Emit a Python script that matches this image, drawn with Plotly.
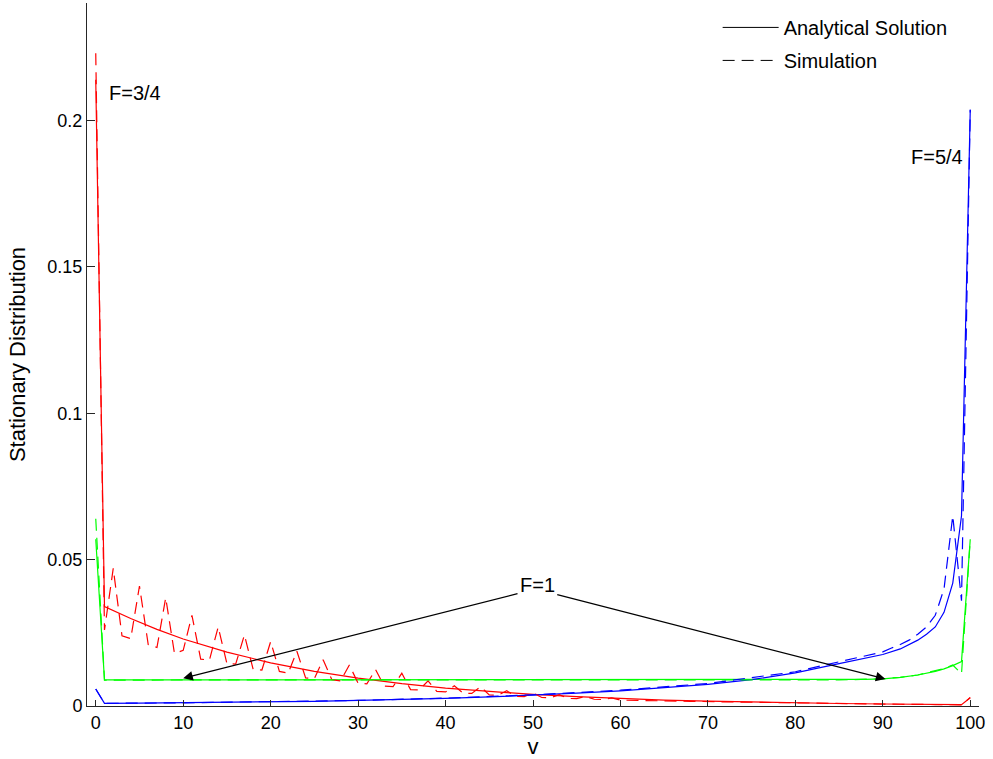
import plotly.graph_objects as go

# ---------------- data ----------------
# F = 3/4 (red)
red_ana_v = [0, 1, 4, 7, 10, 15, 20, 25, 30, 35, 40, 45, 50, 55, 60, 65, 70, 75, 80, 85, 90, 95, 99, 100]
red_ana_p = [0.214, 0.034, 0.0299, 0.0262, 0.0229, 0.0184, 0.01475, 0.01184, 0.0095, 0.00763, 0.00612,
             0.00492, 0.00394, 0.00317, 0.00253, 0.00204, 0.00164, 0.00132, 0.00106, 0.00085, 0.00068,
             0.00055, 0.00046, 0.0028]

red_sim_v = list(range(0, 61)) + [64, 68, 72, 76, 80, 84, 88, 92, 96, 98, 99, 100]
red_sim_p = [0.223, 0.026, 0.047, 0.024, 0.023, 0.041, 0.021, 0.020, 0.037, 0.018,
             0.019, 0.031, 0.016, 0.0157, 0.027, 0.0145, 0.0143, 0.0243, 0.0125, 0.0123,
             0.022, 0.0118, 0.0112, 0.0187, 0.0096, 0.0094, 0.0158, 0.0090, 0.0086, 0.0140,
             0.0078, 0.0076, 0.0124, 0.0068, 0.0066, 0.0112, 0.0056, 0.0055, 0.0086, 0.0050,
             0.0048, 0.0069, 0.0044, 0.0043, 0.0066, 0.0038, 0.0037, 0.0052, 0.0033, 0.0032,
             0.0045, 0.0029, 0.0028, 0.0039, 0.0026, 0.0025, 0.0033, 0.0023, 0.0022, 0.0028,
             0.0020,
             0.0019, 0.0016, 0.0014, 0.0012, 0.0010, 0.0009, 0.0007, 0.0006, 0.0005, 0.0004,
             0.0004, 0.0029]

# F = 1 (green)
green_ana_v = [0, 1, 10, 20, 30, 40, 50, 60, 70, 80, 85, 88, 90, 92, 94, 95, 96, 97, 98, 99, 100]
green_ana_p = [0.057, 0.0089, 0.0089, 0.0089, 0.0089, 0.0089, 0.0089, 0.0089, 0.0089, 0.0089,
               0.0089, 0.0091, 0.0093, 0.0098, 0.0106, 0.0111, 0.0118, 0.0127, 0.0138, 0.0152, 0.057]

green_sim_v = [0, 1, 10, 20, 30, 40, 50, 60, 70, 80, 85, 90, 92, 94, 96, 97, 98, 99, 100]
green_sim_p = [0.064, 0.0088, 0.0089, 0.0088, 0.0089, 0.0089, 0.0088, 0.0089, 0.0089, 0.0088,
               0.0089, 0.0093, 0.0098, 0.0106, 0.0119, 0.0128, 0.0140, 0.0110, 0.057]

# F = 5/4 (blue)
blue_ana_v = [0, 1, 5, 10, 15, 20, 25, 30, 35, 40, 45, 50, 55, 60, 65, 70, 75, 80, 85, 88, 90,
              92, 94, 95, 96, 97, 98, 99, 100]
blue_ana_p = [0.0058, 0.0009, 0.0010, 0.0011, 0.0012, 0.0014, 0.0016, 0.0019, 0.0022, 0.0026,
              0.0031, 0.0037, 0.0044, 0.0052, 0.0062, 0.0074, 0.0090, 0.0113, 0.0145, 0.0163,
              0.0176, 0.0195, 0.0225, 0.0245, 0.0270, 0.0320, 0.0420, 0.0650, 0.2037]

blue_sim_v = [0, 1, 10, 20, 30, 40, 50, 60, 70, 80, 85, 88, 90, 91, 92, 93, 94, 95, 96, 97, 98, 99, 100]
blue_sim_p = [0.0058, 0.0009, 0.0011, 0.0014, 0.0019, 0.0027, 0.0038, 0.0054, 0.0077, 0.0117,
              0.0150, 0.0170, 0.0185, 0.0198, 0.0210, 0.0225, 0.0245, 0.0270, 0.0310, 0.0400,
              0.0650, 0.0360, 0.2037]

x_ticks = [0, 10, 20, 30, 40, 50, 60, 70, 80, 90, 100]
y_ticks = [0, 0.05, 0.1, 0.15, 0.2]
y_tick_text = ["0", "0.05", "0.1", "0.15", "0.2"]

FONT = "Liberation Sans, Arial, Helvetica, sans-serif"
DASH = "12px,7px"

fig = go.Figure()

series = [
    (red_ana_v, red_ana_p, "#ff0000", "solid"),
    (green_ana_v, green_ana_p, "#00ff00", "solid"),
    (blue_ana_v, blue_ana_p, "#0000ff", "solid"),
    (red_sim_v, red_sim_p, "#ff0000", DASH),
    (green_sim_v, green_sim_p, "#00ff00", DASH),
    (blue_sim_v, blue_sim_p, "#0000ff", DASH),
]
for xv, yv, col, dash in series:
    fig.add_trace(go.Scatter(x=xv, y=yv, mode="lines", showlegend=False,
                             line=dict(color=col, width=1.2, dash=dash)))

# legend entries
fig.add_trace(go.Scatter(x=[None], y=[None], mode="lines", name="Analytical Solution",
                         legendgroup="a", line=dict(color="black", width=1)))
fig.add_trace(go.Scatter(x=[None], y=[None], mode="lines", name="Simulation",
                         legendgroup="b", line=dict(color="black", width=1, dash=DASH)))

# annotations
fig.add_annotation(x=1.3, y=0.2095, text="F=3/4", showarrow=False, xanchor="left",
                   yanchor="middle", font=dict(size=20, color="black"))
fig.add_annotation(x=99.35, y=0.1877, text="F=5/4", showarrow=False, xanchor="right",
                   yanchor="middle", font=dict(size=20, color="black"))
fig.add_annotation(x=50.5, y=0.0415, text="F=1", showarrow=False, xanchor="center",
                   yanchor="middle", font=dict(size=20, color="black"))
for tip_x, tip_y, tail_x, tail_y in [(10, 0.0095, 48.4, 0.0385), (90.3, 0.0092, 52.6, 0.0382)]:
    fig.add_annotation(x=tip_x, y=tip_y, ax=tail_x, ay=tail_y, xref="x", yref="y",
                       axref="x", ayref="y", text="", showarrow=True, arrowhead=2,
                       arrowsize=1.6, arrowwidth=1.2, arrowcolor="black", standoff=0)

fig.update_layout(
    width=993, height=759,
    margin=dict(l=87, r=14, t=3, b=51),
    paper_bgcolor="white", plot_bgcolor="white",
    font=dict(family=FONT, size=18, color="black"),
    legend=dict(x=0.707, y=0.993, xanchor="left", yanchor="top", bgcolor="rgba(0,0,0,0)",
                font=dict(size=20), itemwidth=56, tracegroupgap=4),
    xaxis=dict(range=[-1, 101], tickvals=x_ticks, ticks="inside", ticklen=6,
               tickcolor="#262626", showline=True, linecolor="#262626", linewidth=1,
               showgrid=False, zeroline=False, title=dict(text="v", standoff=8),
               tickfont=dict(size=18)),
    yaxis=dict(range=[0, 0.2402], tickvals=y_ticks, ticktext=y_tick_text, ticks="inside",
               ticklen=8, tickcolor="#262626", showline=True, linecolor="#262626",
               linewidth=1, showgrid=False, zeroline=False,
               title=dict(text="Stationary Distribution", standoff=15),
               tickfont=dict(size=18)),
)

fig.write_html("out.html")
